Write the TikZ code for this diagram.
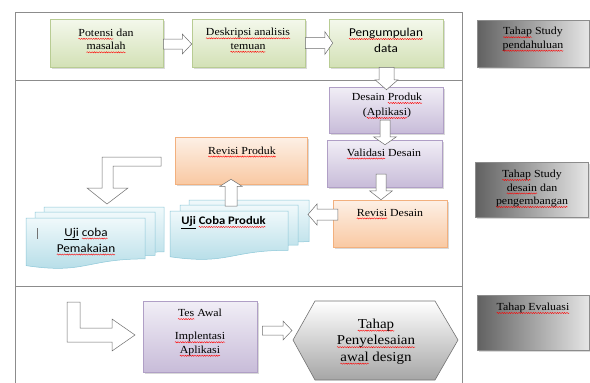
\documentclass[tikz,border=0pt]{standalone}
\usepackage{fontspec}
\setmainfont{Liberation Serif}[FakeStretch=1.1]
\newfontfamily\calfont{Carlito}[FakeStretch=1.1]
\usetikzlibrary{calc,shadows,decorations.pathmorphing}
\newlength\sqlen
\newcommand\sq[1]{\settowidth\sqlen{#1}\rlap{\tikz[baseline=0pt,overlay]\draw[red, line width=0.4pt,
  decorate, decoration={snake, amplitude=0.6pt, segment length=2.4pt}] (0pt,-2.4pt) -- (\sqlen,-2.4pt);}#1}
\definecolor{grT}{HTML}{F4F8EC}
\definecolor{grB}{HTML}{D3E1B6}
\definecolor{grD}{HTML}{B8CC93}
\definecolor{puT}{HTML}{F1EEF6}
\definecolor{puB}{HTML}{C8BCD9}
\definecolor{puD}{HTML}{B09FC6}
\definecolor{orT}{HTML}{FDF0E6}
\definecolor{orB}{HTML}{F9C9A3}
\definecolor{orD}{HTML}{F2B07E}
\definecolor{blT}{HTML}{F0F9FB}
\definecolor{blB}{HTML}{B1DBE6}
\definecolor{blD}{HTML}{8CC7D8}
\definecolor{framec}{HTML}{8C8C8C}
\definecolor{arrc}{HTML}{6E6E6E}
\newcommand\arrR[5]{\draw[barr] let \p1=#1, \p2=#2 in
  (\x1,{\y1-#3}) -- ({\x2-#5},{\y1-#3}) -- ({\x2-#5},{\y1-#4}) -- (\x2,\y1) --
  ({\x2-#5},{\y1+#4}) -- ({\x2-#5},{\y1+#3}) -- (\x1,{\y1+#3}) -- cycle;}
\newcommand\arrL[5]{\draw[barr] let \p1=#1, \p2=#2 in
  (\x1,{\y1-#3}) -- ({\x2+#5},{\y1-#3}) -- ({\x2+#5},{\y1-#4}) -- (\x2,\y1) --
  ({\x2+#5},{\y1+#4}) -- ({\x2+#5},{\y1+#3}) -- (\x1,{\y1+#3}) -- cycle;}
\newcommand\arrD[5]{\draw[barr] let \p1=#1, \p2=#2 in
  ({\x1-#3},\y1) -- ({\x1-#3},{\y2+#5}) -- ({\x1-#4},{\y2+#5}) -- (\x1,\y2) --
  ({\x1+#4},{\y2+#5}) -- ({\x1+#3},{\y2+#5}) -- ({\x1+#3},\y1) -- cycle;}
\newcommand\arrU[5]{\draw[barr] let \p1=#1, \p2=#2 in
  ({\x1-#3},\y1) -- ({\x1-#3},{\y2-#5}) -- ({\x1-#4},{\y2-#5}) -- (\x1,\y2) --
  ({\x1+#4},{\y2-#5}) -- ({\x1+#3},{\y2-#5}) -- ({\x1+#3},\y1) -- cycle;}
\newcommand\docpage[4]{\draw[docst] (#1,#2) -- (#3,#2) -- (#3,{#2+0.802*#4})
  .. controls ({0.5*(#1+#3)},{#2+0.802*#4}) and ({0.5*(#1+#3)},{#2+1.107*#4}) ..
  (#1,{#2+0.934*#4}) -- cycle;}
\tikzset{
  framel/.style={draw=framec, line width=0.8pt},
  bx/.style={line width=0.5pt, inner sep=0pt,
    drop shadow={shadow xshift=1.5pt, shadow yshift=-1.5pt, opacity=0.3}},
  gbox/.style={bx, draw=grD, top color=grT, bottom color=grB},
  pbox/.style={bx, draw=puD, top color=puT, bottom color=puB},
  obox/.style={bx, draw=orD, top color=orT, bottom color=orB},
  gybox/.style={bx, draw=black!45, left color=black!62, right color=black!10},
  docst/.style={draw=blD, line width=0.5pt, top color=blT, bottom color=blB},
  hexst/.style={draw=black!55, line width=0.6pt, top color=white, bottom color=black!35},
  barr/.style={draw=arrc, fill=white, line width=0.5pt, line join=miter},
  tx/.style={inner sep=0pt, align=center, font=\fontsize{10.8}{13.5}\selectfont},
  txs/.style={inner sep=0pt, align=center, font=\calfont\fontsize{12}{16}\selectfont},
  txh/.style={inner sep=0pt, align=center, font=\fontsize{13.6}{16.5}\selectfont},
}
\begin{document}
\begin{tikzpicture}[x=1pt,y=-1pt]
\useasboundingbox (0,0) rectangle (590,383);
% frame
\draw[framel] (15,383) -- (15,12) -- (462,12) -- (462,383);
\draw[framel] (15,80) -- (462,80);
\draw[framel] (15,286) -- (462,286);
% stage boxes on the right
\node[gybox, minimum width=112pt, minimum height=47pt] (g1) at (533,43.5) {};
\node[gybox, minimum width=113pt, minimum height=55pt] (g2) at (531.5,189.5) {};
\node[gybox, minimum width=112pt, minimum height=55pt] (g3) at (533,322.5) {};
% section 1
\node[gbox, minimum width=113pt, minimum height=48pt] (pot) at (106.5,43) {};
\node[gbox, minimum width=113pt, minimum height=48pt] (desk) at (248.5,43) {};
\node[gbox, minimum width=114pt, minimum height=48pt] (peng) at (386,43) {};
% section 2
\node[pbox, minimum width=114pt, minimum height=46pt] (dp) at (386,110) {};
\node[pbox, minimum width=115pt, minimum height=47pt] (val) at (384.5,163.5) {};
\node[obox, minimum width=114pt, minimum height=47pt] (rd) at (390,223.5) {};
\node[obox, minimum width=132pt, minimum height=47pt] (rp) at (241,160.5) {};
% multi documents
\docpage{44}{207}{164}{56}
\docpage{35}{212}{155}{54}
\docpage{26}{218}{145}{51}
\docpage{189}{200}{309}{52}
\docpage{180}{205}{298}{50}
\docpage{170}{211}{288}{49}
\coordinate (ucpR) at (308,214.5);
\coordinate (ucpTop) at (231,206);
\draw[black!55, line width=0.7pt] (37,228) -- (37,239);
% section 3
\node[pbox, minimum width=114pt, minimum height=71pt] (tes) at (200,336.5) {};
\draw[hexst] (293,340) -- (315,301) -- (435,301) -- (458,340) -- (435,380) -- (315,380) -- cycle;
\coordinate (hexW) at (292,340);
% block arrows
\arrR{($(pot.east)+(0,1)$)}{(desk.west)}{5pt}{10pt}{9.5pt}
\arrR{(desk.east)}{($(peng.west)+(4,0)$)}{5.5pt}{11.5pt}{8pt}
\arrD{($(peng.south)+(0.5,0)$)}{($(dp.north)+(0.5,3)$)}{7.5pt}{11.5pt}{10pt}
\arrD{($(dp.center)+(-1,10)$)}{($(val.north)+(0.5,5)$)}{5pt}{11.5pt}{8pt}
\arrD{($(val.center)+(-3.5,10.5)$)}{(rd.north)}{5pt}{11.5pt}{9pt}
\arrL{($(rd.west)+(5,-9)$)}{(ucpR)}{5.5pt}{10.5pt}{9pt}
\arrU{(ucpTop)}{($(rp.south)+(-10,-5)$)}{6pt}{11pt}{7pt}
\arrR{($(tes.east)+(5,-6)$)}{(hexW)}{4.5pt}{9.5pt}{9pt}
\draw[barr] (161,157) -- (102,157) -- (102,188) -- (87,188) -- (107,204) -- (128,188)
  -- (113,188) -- (113,166) -- (161,166) -- cycle;
\draw[barr] (67,302) -- (80,302) -- (80,328) -- (112,328) -- (112,319) -- (135,335)
  -- (112,351) -- (112,342) -- (67,342) -- cycle;
% texts
\node[tx] (potT) at (106,39.5) {\sq{Potensi} dan\\\sq{masalah}};
\node[tx] (deskT) at (248,39) {\sq{Deskripsi analisis}\\\sq{temuan}};
\node[txs] (pengT) at (386,40.5) {\sq{Pengumpulan}\\data};
\node[tx, font=\fontsize{10.8}{15}\selectfont] (dpT) at (387,105.5) {Desain \sq{Produk}\\(\sq{Aplikasi})};
\node[tx] (valT) at (384,152.5) {\sq{Validasi} Desain};
\node[tx] (rdT) at (390,212.5) {\sq{Revisi} Desain};
\node[tx] (rpT) at (242,150.5) {\sq{Revisi Produk}};
\node[txs] (ujpT) at (86,240) {\underline{Uji} \sq{coba}\\\sq{Pemakaian}};
\node[txs, font=\calfont\bfseries\fontsize{11.5}{14}\selectfont] (ucpT) at (223.5,222.5) {\underline{Uji} \sq{Coba Produk}};
\node[tx] (tesT) at (200,313) {\sq{Tes} Awal};
\node[tx] (implT) at (200,344) {\sq{Implentasi}\\\sq{Aplikasi}};
\node[txh] (hexT) at (376,341.5) {\sq{Tahap}\\\sq{Penyelesaian}\\\sq{awal} design};
\node[tx] (g1T) at (533,39) {\sq{Tahap} Study\\\sq{pendahuluan}};
\node[tx] (g2T) at (532,188.5) {\sq{Tahap} Study\\\sq{desain} dan\\\sq{pengembangan}};
\node[tx] (g3T) at (533,308) {\sq{Tahap Evaluasi}};
\end{tikzpicture}
\end{document}
